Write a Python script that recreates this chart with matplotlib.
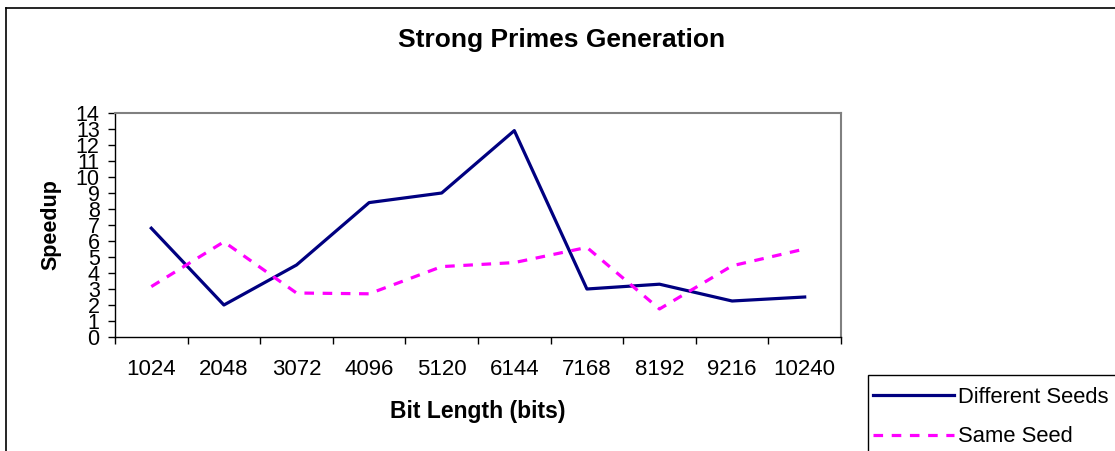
import matplotlib
matplotlib.use('Agg')
import matplotlib.pyplot as plt
from matplotlib.lines import Line2D
from matplotlib.patches import Rectangle

plt.rcParams['font.family'] = ['Liberation Sans', 'DejaVu Sans']

bit_lengths = ['1024', '2048', '3072', '4096', '5120', '6144', '7168', '8192', '9216', '10240']
different_seeds = [6.8, 2.0, 4.5, 8.4, 9.0, 12.9, 3.0, 3.3, 2.25, 2.5]
same_seed = [3.15, 5.95, 2.75, 2.7, 4.4, 4.65, 5.6, 1.75, 4.45, 5.5]

W, H = 1115, 451
fig = plt.figure(figsize=(W / 100, H / 100), dpi=100)
ax = fig.add_axes([115 / W, 1 - 337 / H, (841 - 115) / W, (337 - 113) / H])

x = list(range(len(bit_lengths)))
l1, = ax.plot(x, different_seeds, color='#000080', lw=2.3, label='Different Seeds')
l2, = ax.plot(x, same_seed, color='#FF00FF', lw=2.3, dashes=(3, 2.7), label='Same Seed')

ax.set_xlim(-0.5, len(bit_lengths) - 0.5)
ax.set_ylim(0, 14)
ax.set_yticks(range(0, 15))
ax.tick_params(axis='y', direction='out', length=5, width=1, labelsize=15.5, pad=6)

# ticks on category borders, labels in between
ax.set_xticks([i - 0.5 for i in range(len(bit_lengths) + 1)])
ax.set_xticklabels([])
ax.set_xticks(x, minor=True)
ax.set_xticklabels(bit_lengths, minor=True)
ax.tick_params(axis='x', which='major', direction='out', length=5, width=1)
ax.tick_params(axis='x', which='minor', length=0, labelsize=16, pad=16)

for s in ['top', 'right']:
    ax.spines[s].set_color('#808080')
    ax.spines[s].set_linewidth(1.5)
for s in ['left', 'bottom']:
    ax.spines[s].set_color('black')
    ax.spines[s].set_linewidth(1)

ax.set_ylabel('Speedup', fontsize=15.5, fontweight='bold', labelpad=10)
ax.set_xlabel('Bit Length (bits)', fontsize=16.5, fontweight='bold', labelpad=14)
fig.text(562 / W, 1 - 40 / H, 'Strong Primes Generation', fontsize=19,
         fontweight='bold', ha='center', va='center')

# chart border (cropped)
fig.add_artist(Line2D([6 / W, 1], [1 - 8 / H, 1 - 8 / H], color='black', lw=1.2))
fig.add_artist(Line2D([6 / W, 6 / W], [0, 1 - 8 / H], color='black', lw=1.2))

# legend box (cropped at the figure edge)
fig.add_artist(Rectangle((868 / W, -0.05), 0.5, 1 - 375 / H + 0.05,
                         transform=fig.transFigure, fill=False, edgecolor='black', lw=1))
fig.legend(handles=[l1, l2], loc='upper left', bbox_to_anchor=(866 / W, 1 - 380 / H),
           frameon=False, fontsize=15.8, handlelength=3.7, handletextpad=0.2,
           labelspacing=0.85, borderaxespad=0, borderpad=0.3)

fig.savefig('out.png', dpi=100)
